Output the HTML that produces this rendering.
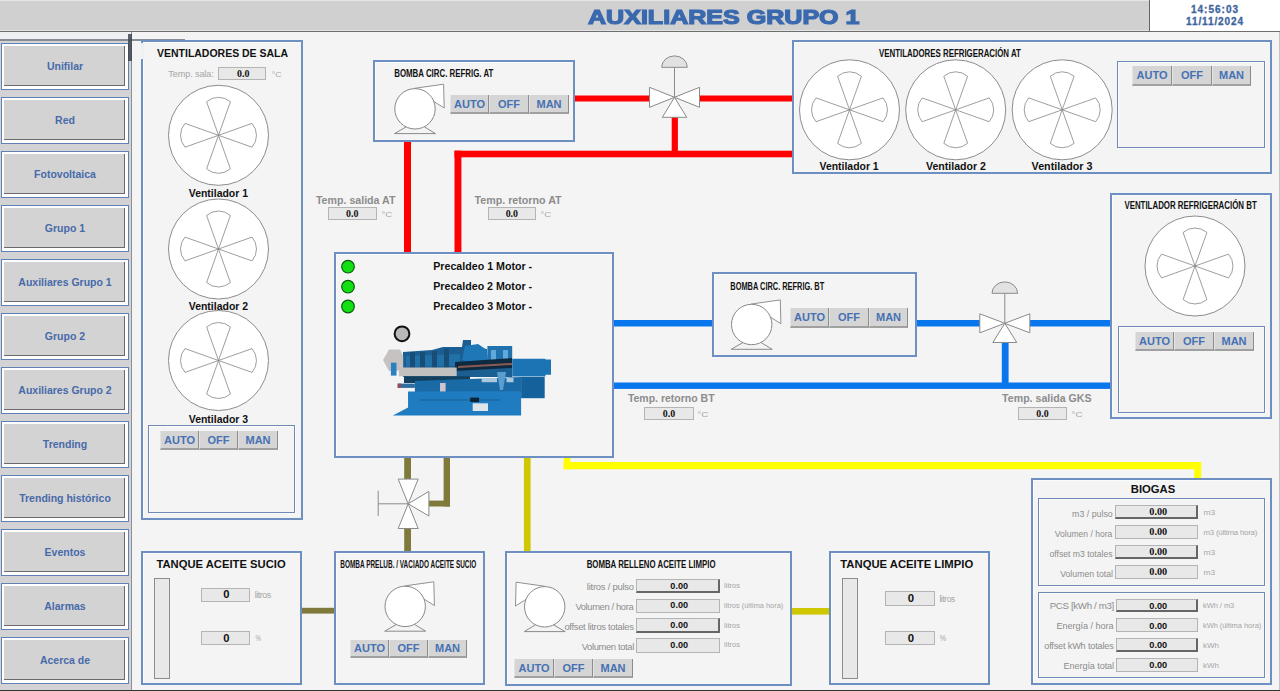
<!DOCTYPE html><html><head><meta charset="utf-8"><style>
*{margin:0;padding:0;box-sizing:border-box}
html,body{width:1280px;height:691px;overflow:hidden;background:#f4f4f4;font-family:"Liberation Sans",sans-serif}
.a{position:absolute}
.t{position:absolute;white-space:nowrap;font-weight:bold;line-height:1}
.panel{position:absolute;border:2px solid #6d8fc2;box-shadow:inset 1px 1px 0 #fafbfd}
.sub{position:absolute;border:1px solid #7189b5;box-shadow:inset 1px 1px 0 #fbfcfe, 1px 1px 0 #fbfcfe}
.nav{position:absolute;left:1px;width:128px;height:47px;border:1px solid #5f82b6;background:#fff;}
.nav .f{position:absolute;left:2px;top:2px;right:3px;bottom:3px;background:#d3d3d3;border-right:1px solid #6a6a6a;border-bottom:1px solid #6a6a6a;}
.nav span{position:absolute;left:0;right:0;top:16px;text-align:center;color:#476aaa;font-weight:bold;font-size:10.5px}
.btn{position:absolute;background:#d5d5d5;border-left:1px solid #e4e4e4;border-right:1px solid #8c8c8c;border-bottom:2px solid #a0a0a0;color:#4671b3;font-weight:bold;font-size:11px;text-align:center}
.fld{position:absolute;background:#e8e8e8;border:1px solid #b4b4b4}
.fld.r{border-right:2px solid #666;border-bottom:2px solid #666}
</style></head><body>
<div class="a" style="left:0;top:0;width:1280px;height:31px;background:#d0d0d0"></div>
<div class="a" style="left:0;top:0;width:1280px;height:1px;background:#e6e6e6"></div>
<div class="a" style="left:0;top:30px;width:1280px;height:1px;background:#e4e4e4"></div>
<div class="a" style="left:0;top:31px;width:1280px;height:1px;background:#6e6e6e"></div>
<div class="t" style="left:588px;top:8px;font-size:19.5px;color:#3a69ae;-webkit-text-stroke:1.2px #3a69ae;transform:scaleX(1.285);transform-origin:left top">AUXILIARES GRUPO 1</div>
<div class="a" style="left:1149px;top:0;width:131px;height:31px;background:#fff;border-left:1px solid #666"></div>
<div class="t" style="left:1150px;top:5px;width:130px;text-align:center;font-size:10px;color:#3d649e;letter-spacing:1px;-webkit-text-stroke:0.3px #3d649e">14:56:03</div>
<div class="t" style="left:1150px;top:17px;width:130px;text-align:center;font-size:10px;color:#3d649e;letter-spacing:0.9px;-webkit-text-stroke:0.3px #3d649e">11/11/2024</div>
<div class="a" style="left:0;top:32px;width:131px;height:659px;background:#d3d2d5"></div>
<div class="a" style="left:131px;top:32px;width:1px;height:659px;background:#8f8f8f"></div>
<div class="nav" style="top:43px"><div class="f"></div><span>Unifilar</span></div>
<div class="nav" style="top:97px"><div class="f"></div><span>Red</span></div>
<div class="nav" style="top:151px"><div class="f"></div><span>Fotovoltaica</span></div>
<div class="nav" style="top:205px"><div class="f"></div><span>Grupo 1</span></div>
<div class="nav" style="top:259px"><div class="f"></div><span>Auxiliares Grupo 1</span></div>
<div class="nav" style="top:313px"><div class="f"></div><span>Grupo 2</span></div>
<div class="nav" style="top:367px"><div class="f"></div><span>Auxiliares Grupo 2</span></div>
<div class="nav" style="top:421px"><div class="f"></div><span>Trending</span></div>
<div class="nav" style="top:475px"><div class="f"></div><span>Trending histórico</span></div>
<div class="nav" style="top:529px"><div class="f"></div><span>Eventos</span></div>
<div class="nav" style="top:583px"><div class="f"></div><span>Alarmas</span></div>
<div class="nav" style="top:637px"><div class="f"></div><span>Acerca de</span></div>
<div class="a" style="left:0;top:32px;width:131px;height:9px;background:#eef0f3;filter:blur(0.5px)"></div>
<div class="a" style="left:0;top:39px;width:185px;height:2px;background:#6c7480;filter:blur(0.6px);opacity:0.8"></div>
<div class="a" style="left:128px;top:34px;width:4px;height:27px;background:#3e4650;filter:blur(0.7px);opacity:0.85"></div>
<div class="a" style="left:1279px;top:32px;width:1px;height:659px;background:#c4c4c4"></div>
<div class="a" style="left:0;top:690px;width:1280px;height:1px;background:#333"></div>
<svg class="a" style="left:0;top:0" width="1280" height="691" viewBox="0 0 1280 691"><rect x="573" y="95.5" width="77.00" height="6.00" fill="#ff0000"/><rect x="699" y="95.5" width="95.00" height="6.00" fill="#ff0000"/><rect x="404" y="141" width="7.00" height="113.00" fill="#ff0000"/><rect x="454.5" y="150.7" width="339.50" height="6.60" fill="#ff0000"/><rect x="454.5" y="150.7" width="6.90" height="103.30" fill="#ff0000"/><rect x="671.7" y="117" width="6.20" height="34.00" fill="#ff0000"/><rect x="613" y="320" width="100.00" height="6.50" fill="#0877ee"/><rect x="916" y="320" width="64.00" height="6.50" fill="#0877ee"/><rect x="1030" y="320" width="82.00" height="6.50" fill="#0877ee"/><rect x="613" y="382.5" width="499.00" height="6.40" fill="#0877ee"/><rect x="1001.8" y="342" width="6.80" height="41.00" fill="#0877ee"/><rect x="404.2" y="457" width="6.80" height="23.00" fill="#7f7a3c"/><rect x="443.6" y="457" width="6.40" height="49.50" fill="#7f7a3c"/><rect x="428" y="500.6" width="22.00" height="5.90" fill="#7f7a3c"/><rect x="404.2" y="528" width="6.80" height="24.00" fill="#7f7a3c"/><rect x="301" y="607.8" width="34.00" height="5.80" fill="#7f7a3c"/><rect x="523.9" y="457" width="6.70" height="95.00" fill="#cfc800"/><rect x="563.7" y="462" width="637.50" height="7.20" fill="#ffff00"/><rect x="563.7" y="457" width="6.80" height="12.20" fill="#ffff00"/><rect x="1194.2" y="462" width="7.00" height="17.00" fill="#ffff00"/><rect x="791" y="608" width="39.00" height="6.60" fill="#cfc800"/><path d="M674.5,97.3 L649.5,87.3 L649.5,107.3 Z" fill="#fff" stroke="#8a8a8a" stroke-width="1"/><path d="M674.5,97.3 L699.5,87.3 L699.5,107.3 Z" fill="#fff" stroke="#8a8a8a" stroke-width="1"/><path d="M674.5,97.3 L662.3,117.3 L686.7,117.3 Z" fill="#fff" stroke="#8a8a8a" stroke-width="1"/><line x1="674.5" y1="97.3" x2="674.5" y2="67.3" stroke="#8a8a8a" stroke-width="1"/><path d="M661.7,67.3 A12.8,11.4 0 0 1 687.3,67.3 Z" fill="#e2e2e2" stroke="#8a8a8a" stroke-width="1"/><path d="M1004.8,323.3 L979.8,313.8 L979.8,332.8 Z" fill="#fff" stroke="#8a8a8a" stroke-width="1"/><path d="M1004.8,323.3 L1029.8,313.8 L1029.8,332.8 Z" fill="#fff" stroke="#8a8a8a" stroke-width="1"/><path d="M1004.8,323.3 L992.8,342.5 L1016.8,342.5 Z" fill="#fff" stroke="#8a8a8a" stroke-width="1"/><line x1="1004.8" y1="323.3" x2="1004.8" y2="293.3" stroke="#8a8a8a" stroke-width="1"/><path d="M992.0,293.3 A12.8,11.4 0 0 1 1017.5999999999999,293.3 Z" fill="#e2e2e2" stroke="#8a8a8a" stroke-width="1"/><path d="M408.2,503.8 L398.2,479.1 L418.2,479.1 Z" fill="#fff" stroke="#8a8a8a" stroke-width="1"/><path d="M408.2,503.8 L398.2,528.5 L418.2,528.5 Z" fill="#fff" stroke="#8a8a8a" stroke-width="1"/><path d="M408.2,503.8 L428.9,491.40000000000003 L428.9,516.0 Z" fill="#fff" stroke="#8a8a8a" stroke-width="1"/><line x1="408.2" y1="503.8" x2="378.2" y2="503.8" stroke="#8a8a8a" stroke-width="1"/><line x1="378.2" y1="490.8" x2="378.2" y2="515.8" stroke="#8a8a8a" stroke-width="1"/><circle cx="218.5" cy="135.3" r="50" fill="#fff" stroke="#8c8c8c" stroke-width="1"/><path d="M218.5,135.3 L206.6,101.8 A18,18 0 0 1 230.4,101.8 Z" fill="none" stroke="#858585" stroke-width="0.8"/><path d="M218.5,135.3 L252.0,123.4 A18,18 0 0 1 252.0,147.2 Z" fill="none" stroke="#858585" stroke-width="0.8"/><path d="M218.5,135.3 L230.4,168.8 A18,18 0 0 1 206.6,168.8 Z" fill="none" stroke="#858585" stroke-width="0.8"/><path d="M218.5,135.3 L185.0,147.2 A18,18 0 0 1 185.0,123.4 Z" fill="none" stroke="#858585" stroke-width="0.8"/><circle cx="218.5" cy="249" r="50" fill="#fff" stroke="#8c8c8c" stroke-width="1"/><path d="M218.5,249 L206.6,215.5 A18,18 0 0 1 230.4,215.5 Z" fill="none" stroke="#858585" stroke-width="0.8"/><path d="M218.5,249 L252.0,237.1 A18,18 0 0 1 252.0,260.9 Z" fill="none" stroke="#858585" stroke-width="0.8"/><path d="M218.5,249 L230.4,282.5 A18,18 0 0 1 206.6,282.5 Z" fill="none" stroke="#858585" stroke-width="0.8"/><path d="M218.5,249 L185.0,260.9 A18,18 0 0 1 185.0,237.1 Z" fill="none" stroke="#858585" stroke-width="0.8"/><circle cx="218.5" cy="360.5" r="50" fill="#fff" stroke="#8c8c8c" stroke-width="1"/><path d="M218.5,360.5 L206.6,327.0 A18,18 0 0 1 230.4,327.0 Z" fill="none" stroke="#858585" stroke-width="0.8"/><path d="M218.5,360.5 L252.0,348.6 A18,18 0 0 1 252.0,372.4 Z" fill="none" stroke="#858585" stroke-width="0.8"/><path d="M218.5,360.5 L230.4,394.0 A18,18 0 0 1 206.6,394.0 Z" fill="none" stroke="#858585" stroke-width="0.8"/><path d="M218.5,360.5 L185.0,372.4 A18,18 0 0 1 185.0,348.6 Z" fill="none" stroke="#858585" stroke-width="0.8"/><circle cx="849.5" cy="109.8" r="50" fill="#fff" stroke="#8c8c8c" stroke-width="1"/><path d="M849.5,109.8 L837.6,76.3 A18,18 0 0 1 861.4,76.3 Z" fill="none" stroke="#858585" stroke-width="0.8"/><path d="M849.5,109.8 L883.0,97.9 A18,18 0 0 1 883.0,121.7 Z" fill="none" stroke="#858585" stroke-width="0.8"/><path d="M849.5,109.8 L861.4,143.3 A18,18 0 0 1 837.6,143.3 Z" fill="none" stroke="#858585" stroke-width="0.8"/><path d="M849.5,109.8 L816.0,121.7 A18,18 0 0 1 816.0,97.9 Z" fill="none" stroke="#858585" stroke-width="0.8"/><circle cx="955.7" cy="109.8" r="50" fill="#fff" stroke="#8c8c8c" stroke-width="1"/><path d="M955.7,109.8 L943.8,76.3 A18,18 0 0 1 967.6,76.3 Z" fill="none" stroke="#858585" stroke-width="0.8"/><path d="M955.7,109.8 L989.2,97.9 A18,18 0 0 1 989.2,121.7 Z" fill="none" stroke="#858585" stroke-width="0.8"/><path d="M955.7,109.8 L967.6,143.3 A18,18 0 0 1 943.8,143.3 Z" fill="none" stroke="#858585" stroke-width="0.8"/><path d="M955.7,109.8 L922.2,121.7 A18,18 0 0 1 922.2,97.9 Z" fill="none" stroke="#858585" stroke-width="0.8"/><circle cx="1062.2" cy="109.8" r="50" fill="#fff" stroke="#8c8c8c" stroke-width="1"/><path d="M1062.2,109.8 L1050.3,76.3 A18,18 0 0 1 1074.1,76.3 Z" fill="none" stroke="#858585" stroke-width="0.8"/><path d="M1062.2,109.8 L1095.7,97.9 A18,18 0 0 1 1095.7,121.7 Z" fill="none" stroke="#858585" stroke-width="0.8"/><path d="M1062.2,109.8 L1074.1,143.3 A18,18 0 0 1 1050.3,143.3 Z" fill="none" stroke="#858585" stroke-width="0.8"/><path d="M1062.2,109.8 L1028.7,121.7 A18,18 0 0 1 1028.7,97.9 Z" fill="none" stroke="#858585" stroke-width="0.8"/><circle cx="1195" cy="266" r="50" fill="#fff" stroke="#8c8c8c" stroke-width="1"/><path d="M1195,266 L1183.1,232.5 A18,18 0 0 1 1206.9,232.5 Z" fill="none" stroke="#858585" stroke-width="0.8"/><path d="M1195,266 L1228.5,254.1 A18,18 0 0 1 1228.5,277.9 Z" fill="none" stroke="#858585" stroke-width="0.8"/><path d="M1195,266 L1206.9,299.5 A18,18 0 0 1 1183.1,299.5 Z" fill="none" stroke="#858585" stroke-width="0.8"/><path d="M1195,266 L1161.5,277.9 A18,18 0 0 1 1161.5,254.1 Z" fill="none" stroke="#858585" stroke-width="0.8"/><g transform="translate(415,108.8)"><path d="M-0.3,-20.5 L28.6,-24.6 L29.2,-0.8 L20,-6.6 Z" fill="#fff" stroke="#919191" stroke-width="1"/><circle cx="0" cy="0" r="20.2" fill="#fff" stroke="#888" stroke-width="1"/><path d="M-9,18.2 L-20.5,24.8 L20.5,24.8 L9.6,18.2" fill="none" stroke="#8a8a8a" stroke-width="1"/></g><g transform="translate(751.7,324.5)"><path d="M-0.3,-20.5 L28.6,-24.6 L29.2,-0.8 L20,-6.6 Z" fill="#fff" stroke="#919191" stroke-width="1"/><circle cx="0" cy="0" r="20.2" fill="#fff" stroke="#888" stroke-width="1"/><path d="M-9,18.2 L-20.5,24.8 L20.5,24.8 L9.6,18.2" fill="none" stroke="#8a8a8a" stroke-width="1"/></g><g transform="translate(405.2,606.4)"><path d="M-0.3,-20.5 L28.6,-24.6 L29.2,-0.8 L20,-6.6 Z" fill="#fff" stroke="#919191" stroke-width="1"/><circle cx="0" cy="0" r="20.2" fill="#fff" stroke="#888" stroke-width="1"/><path d="M-9,18.2 L-20.5,24.8 L20.5,24.8 L9.6,18.2" fill="none" stroke="#8a8a8a" stroke-width="1"/></g><g transform="translate(544.7,606.8) scale(-1,1)"><path d="M-0.3,-20.5 L28.6,-24.6 L29.2,-0.8 L20,-6.6 Z" fill="#fff" stroke="#919191" stroke-width="1"/><circle cx="0" cy="0" r="20.2" fill="#fff" stroke="#888" stroke-width="1"/><path d="M-9,18.2 L-20.5,24.8 L20.5,24.8 L9.6,18.2" fill="none" stroke="#8a8a8a" stroke-width="1"/></g><circle cx="348" cy="266.7" r="6.3" fill="#12e012" stroke="#0b5d0b" stroke-width="1.2"/><circle cx="348" cy="286.7" r="6.3" fill="#12e012" stroke="#0b5d0b" stroke-width="1.2"/><circle cx="348" cy="306.5" r="6.3" fill="#12e012" stroke="#0b5d0b" stroke-width="1.2"/><circle cx="402" cy="333.8" r="7.4" fill="#b9b9b9" stroke="#111" stroke-width="2"/><g>
<!-- upper dark head block -->
<path d="M403,352 L432,350 L443,347 L462,347 L463,340 L471,340 L471,347 L487,349 L487,359 L512,359 L512,377 L403,377 Z" fill="#1b5f92"/>
<!-- head detail lines -->
<path d="M406,356 L460,354 L460,366 L406,367 Z" fill="#2170a8"/>
<path d="M410,352 L415,352 L415,368 L410,368 Z M420,352 L425,352 L425,368 L420,368 Z M432,351 L437,351 L437,368 L432,368 Z M444,349 L449,349 L449,368 L444,368 Z" fill="#184d78"/>
<!-- turbo -->
<path d="M465,346 L478,344 L487,350 L488,360 L470,362 L462,360 Z" fill="#1e78b8"/>
<path d="M487.4,346 L512.2,346 L512.2,361.3 L487.4,361.3 Z" fill="#1f72ad"/>
<path d="M491,350 L496,350 L496,360 L491,360 Z M503,350 L508,350 L508,360 L503,360 Z" fill="#62a8d8"/>
<!-- dark cable band -->
<path d="M455,362 L512,358 L512,368 L455,371 Z" fill="#0d2a40"/>
<path d="M458,366 L512,363 L512,365 L458,368 Z" fill="#8a5a50"/>
<!-- generator right -->
<path d="M512.2,358.8 L545.4,358.8 L545.4,359.4 L551,359.4 L551,374.7 L545.4,374.7 L545.4,376.6 L512.2,376.6 Z" fill="#1d74b4"/>
<path d="M521.1,377 L544.7,377 L544.7,398.2 L521.1,398.2 Z" fill="#14619b"/>
<!-- gray exhaust cap -->
<path d="M383,360 L389,349.5 L400,349.5 L403.2,356 L403.2,368 L397,371 L389,371 Z" fill="#c6c2c2"/>
<path d="M390.9,362.7 L396.5,362.7 L396.5,375.6 L390.9,375.6 Z" fill="#2a80c0"/>
<!-- gray manifold bar -->
<path d="M398.9,367.6 L456.7,367.6 L456.7,376.2 L398.9,376.2 Z" fill="#c3c0c0"/>
<!-- dark band under -->
<path d="M404,376.2 L470,376.2 L470,383 L404,383 Z" fill="#13405f"/>
<!-- middle blue section -->
<path d="M414.9,381 L521.1,377 L521.1,398 L414.9,399 Z" fill="#1a6aa6"/>
<path d="M481.7,377.9 L497,377.9 L497,382.3 L481.7,382.3 Z M506.5,377.9 L513.5,377.9 L513.5,382.3 L506.5,382.3 Z" fill="#a9c8de"/>
<path d="M497,372 L506,372 L503,390 L500,390 Z" fill="#5a9ed0"/>
<path d="M440,383 L445.6,383 L445.6,394 L440,394 Z" fill="#d0c4cc"/>
<!-- red stub -->
<path d="M397.7,383.6 L414.9,383.6 L414.9,387.9 L397.7,387.9 Z" fill="#2f6fa0"/>
<path d="M397.7,383.6 L401,383.6 L401,387.9 L397.7,387.9 Z" fill="#9a4a50"/>
<!-- base -->
<path d="M408,391.6 L521.1,391.2 L521.1,415.4 L392.8,415.6 L408.1,407.6 Z" fill="#1f7cc0"/>
<path d="M420,399 L500,399 L500,401 L420,401 Z" fill="#1a6dab"/>
<!-- label plate & dark small rect -->
<path d="M470.2,397.6 L479.1,397.6 L479.1,402 L470.2,402 Z" fill="#0c2436"/>
<path d="M472.7,403.3 L488,403.3 L488,411 L472.7,411 Z" fill="#dfe6ea"/>
</g>
</svg>
<div class="panel" style="left:141px;top:40px;width:162px;height:480px"></div>
<div class="sub" style="left:148px;top:425px;width:147px;height:88px"></div>
<div class="panel" style="left:373px;top:60px;width:202px;height:82px"></div>
<div class="panel" style="left:792px;top:40px;width:480px;height:134px"></div>
<div class="sub" style="left:1117px;top:61px;width:148px;height:87px"></div>
<div class="panel" style="left:334px;top:252px;width:280px;height:206px"></div>
<div class="panel" style="left:712px;top:272px;width:205px;height:85px"></div>
<div class="panel" style="left:1110px;top:193px;width:162px;height:226px"></div>
<div class="sub" style="left:1118px;top:326px;width:147px;height:87px"></div>
<div class="panel" style="left:141px;top:551px;width:161px;height:134px"></div>
<div class="panel" style="left:334px;top:551px;width:151px;height:134px"></div>
<div class="panel" style="left:505px;top:551px;width:287px;height:135px"></div>
<div class="panel" style="left:829px;top:551px;width:161px;height:134px"></div>
<div class="panel" style="left:1031px;top:478px;width:241px;height:207px"></div>
<div class="sub" style="left:1038px;top:498px;width:227px;height:88px"></div>
<div class="sub" style="left:1038px;top:592px;width:227px;height:86px"></div>
<div class="a" style="left:141px;top:43px;width:3px;height:16px;background:#eef1f4"></div>
<div class="btn" style="left:160px;top:431px;width:39px;height:19px;line-height:18px">AUTO</div>
<div class="btn" style="left:199px;top:431px;width:39px;height:19px;line-height:18px">OFF</div>
<div class="btn" style="left:238px;top:431px;width:40px;height:19px;line-height:18px">MAN</div>
<div class="btn" style="left:450px;top:95px;width:39px;height:19px;line-height:18px">AUTO</div>
<div class="btn" style="left:489px;top:95px;width:40px;height:19px;line-height:18px">OFF</div>
<div class="btn" style="left:529px;top:95px;width:40px;height:19px;line-height:18px">MAN</div>
<div class="btn" style="left:1132px;top:66px;width:40px;height:20px;line-height:19px">AUTO</div>
<div class="btn" style="left:1172px;top:66px;width:40px;height:20px;line-height:19px">OFF</div>
<div class="btn" style="left:1212px;top:66px;width:39px;height:20px;line-height:19px">MAN</div>
<div class="btn" style="left:790px;top:308px;width:39px;height:20px;line-height:19px">AUTO</div>
<div class="btn" style="left:829px;top:308px;width:40px;height:20px;line-height:19px">OFF</div>
<div class="btn" style="left:869px;top:308px;width:39px;height:20px;line-height:19px">MAN</div>
<div class="btn" style="left:1135px;top:332px;width:39px;height:19px;line-height:18px">AUTO</div>
<div class="btn" style="left:1174px;top:332px;width:40px;height:19px;line-height:18px">OFF</div>
<div class="btn" style="left:1214px;top:332px;width:40px;height:19px;line-height:18px">MAN</div>
<div class="btn" style="left:350px;top:640px;width:39px;height:18px;line-height:17px">AUTO</div>
<div class="btn" style="left:389px;top:640px;width:39px;height:18px;line-height:17px">OFF</div>
<div class="btn" style="left:428px;top:640px;width:39px;height:18px;line-height:17px">MAN</div>
<div class="btn" style="left:514px;top:659px;width:40px;height:19px;line-height:18px">AUTO</div>
<div class="btn" style="left:554px;top:659px;width:39px;height:19px;line-height:18px">OFF</div>
<div class="btn" style="left:593px;top:659px;width:40px;height:19px;line-height:18px">MAN</div>
<div class="fld" style="left:218px;top:67px;width:48px;height:13px"></div>
<div class="fld" style="left:328px;top:207px;width:49px;height:13px"></div>
<div class="fld" style="left:488px;top:207px;width:48px;height:13px"></div>
<div class="fld" style="left:644px;top:407px;width:50px;height:13px"></div>
<div class="fld" style="left:1018px;top:407px;width:49px;height:13px"></div>
<div class="fld" style="left:201px;top:588px;width:49px;height:14px"></div>
<div class="fld" style="left:201px;top:631px;width:49px;height:14px"></div>
<div class="fld" style="left:885px;top:591px;width:50px;height:15px"></div>
<div class="fld" style="left:885px;top:631px;width:50px;height:14px"></div>
<div class="a" style="left:154px;top:578px;width:16px;height:101px;background:#e8e8e8;border:1px solid #8c8c8c"></div>
<div class="a" style="left:842px;top:578px;width:16px;height:101px;background:#e8e8e8;border:1px solid #8c8c8c"></div>
<div class="fld r" style="left:636px;top:579px;width:84px;height:14px"></div>
<div class="fld" style="left:636px;top:599px;width:84px;height:14px"></div>
<div class="fld r" style="left:636px;top:618px;width:84px;height:15px"></div>
<div class="fld" style="left:636px;top:638px;width:84px;height:15px"></div>
<div class="fld r" style="left:1115px;top:505px;width:83px;height:14px"></div>
<div class="fld" style="left:1115px;top:525px;width:83px;height:14px"></div>
<div class="fld r" style="left:1115px;top:545px;width:83px;height:14px"></div>
<div class="fld" style="left:1115px;top:565px;width:83px;height:14px"></div>
<div class="fld r" style="left:1116px;top:599px;width:82px;height:13px"></div>
<div class="fld" style="left:1116px;top:618px;width:82px;height:14px"></div>
<div class="fld r" style="left:1116px;top:638px;width:82px;height:14px"></div>
<div class="fld" style="left:1116px;top:658px;width:82px;height:14px"></div>
<svg class="a" style="left:0;top:0" width="1280" height="691" viewBox="0 0 1280 691"><text transform="translate(157.00,56.70) scale(0.942,1)" font-size="11.14" font-family="Liberation Sans" font-weight="bold" fill="#111">VENTILADORES DE SALA</text><text x="168.32" y="77.30" font-size="9.13" letter-spacing="-0.120" font-family="Liberation Sans" font-weight="normal" fill="#a6a6a6">Temp. sala:</text><text transform="translate(237.10,77.40) scale(0.992,1)" font-size="10.00" font-family="Liberation Serif" font-weight="bold" fill="#111">0.0</text><text transform="translate(271.66,76.80) scale(1.184,1)" font-size="7.39" font-family="Liberation Sans" font-weight="normal" fill="#a6a6a6">°C</text><text transform="translate(188.75,196.90) scale(0.927,1)" font-size="11.29" font-family="Liberation Sans" font-weight="bold" fill="#111">Ventilador 1</text><text transform="translate(188.75,309.90) scale(0.929,1)" font-size="11.29" font-family="Liberation Sans" font-weight="bold" fill="#111">Ventilador 2</text><text transform="translate(188.75,422.90) scale(0.929,1)" font-size="11.29" font-family="Liberation Sans" font-weight="bold" fill="#111">Ventilador 3</text><text transform="translate(394.23,76.90) scale(0.757,1)" font-size="10.43" font-family="Liberation Sans" font-weight="bold" fill="#111">BOMBA CIRC. REFRIG. AT</text><text transform="translate(879.00,56.90) scale(0.757,1)" font-size="10.43" font-family="Liberation Sans" font-weight="bold" fill="#111">VENTILADORES REFRIGERACIÓN AT</text><text transform="translate(819.50,170.20) scale(0.949,1)" font-size="11.00" font-family="Liberation Sans" font-weight="bold" fill="#111">Ventilador 1</text><text transform="translate(926.00,170.20) scale(0.962,1)" font-size="11.00" font-family="Liberation Sans" font-weight="bold" fill="#111">Ventilador 2</text><text transform="translate(1031.60,170.20) scale(0.975,1)" font-size="11.00" font-family="Liberation Sans" font-weight="bold" fill="#111">Ventilador 3</text><text transform="translate(315.89,204.00) scale(0.932,1)" font-size="11.43" font-family="Liberation Sans" font-weight="bold" fill="#8c8c8c">Temp. salida AT</text><text transform="translate(474.49,204.00) scale(0.936,1)" font-size="11.43" font-family="Liberation Sans" font-weight="bold" fill="#8c8c8c">Temp. retorno AT</text><text transform="translate(346.10,216.85) scale(1.023,1)" font-size="9.70" font-family="Liberation Serif" font-weight="bold" fill="#111">0.0</text><text transform="translate(505.65,216.85) scale(1.023,1)" font-size="9.70" font-family="Liberation Serif" font-weight="bold" fill="#111">0.0</text><text transform="translate(662.80,417.05) scale(1.023,1)" font-size="9.70" font-family="Liberation Serif" font-weight="bold" fill="#111">0.0</text><text transform="translate(1036.30,417.05) scale(1.023,1)" font-size="9.70" font-family="Liberation Serif" font-weight="bold" fill="#111">0.0</text><text transform="translate(381.52,216.50) scale(1.327,1)" font-size="7.25" font-family="Liberation Sans" font-weight="normal" fill="#a6a6a6">°C</text><text transform="translate(540.52,216.50) scale(1.327,1)" font-size="7.25" font-family="Liberation Sans" font-weight="normal" fill="#a6a6a6">°C</text><text transform="translate(697.30,416.50) scale(1.367,1)" font-size="7.25" font-family="Liberation Sans" font-weight="normal" fill="#a6a6a6">°C</text><text transform="translate(1071.50,416.50) scale(1.367,1)" font-size="7.25" font-family="Liberation Sans" font-weight="normal" fill="#a6a6a6">°C</text><text transform="translate(433.26,270.00) scale(1.066,1)" font-size="10.00" font-family="Liberation Sans" font-weight="bold" fill="#111">Precaldeo 1 Motor -</text><text transform="translate(433.26,290.20) scale(1.051,1)" font-size="10.14" font-family="Liberation Sans" font-weight="bold" fill="#111">Precaldeo 2 Motor -</text><text transform="translate(433.26,310.30) scale(1.066,1)" font-size="10.00" font-family="Liberation Sans" font-weight="bold" fill="#111">Precaldeo 3 Motor -</text><text transform="translate(730.36,289.90) scale(0.720,1)" font-size="10.29" font-family="Liberation Sans" font-weight="bold" fill="#111">BOMBA CIRC. REFRIG. BT</text><text transform="translate(1124.40,209.30) scale(0.709,1)" font-size="11.14" font-family="Liberation Sans" font-weight="bold" fill="#111">VENTILADOR REFRIGERACIÓN BT</text><text transform="translate(627.89,402.30) scale(0.968,1)" font-size="10.86" font-family="Liberation Sans" font-weight="bold" fill="#8c8c8c">Temp. retorno BT</text><text transform="translate(1002.09,402.30) scale(0.978,1)" font-size="10.86" font-family="Liberation Sans" font-weight="bold" fill="#8c8c8c">Temp. salida GKS</text><text transform="translate(156.49,568.20) scale(0.972,1)" font-size="11.57" font-family="Liberation Sans" font-weight="bold" fill="#111">TANQUE ACEITE SUCIO</text><text transform="translate(223.16,598.30) scale(1.076,1)" font-size="10.43" font-family="Liberation Sans" font-weight="bold" fill="#111">0</text><text transform="translate(223.16,641.80) scale(1.076,1)" font-size="10.43" font-family="Liberation Sans" font-weight="bold" fill="#111">0</text><text x="254.87" y="598.00" font-size="8.90" letter-spacing="-0.480" font-family="Liberation Sans" font-weight="normal" fill="#a6a6a6">litros</text><text transform="translate(255.61,641.30) scale(0.675,1)" font-size="9.29" font-family="Liberation Sans" font-weight="normal" fill="#a6a6a6">%</text><text transform="translate(340.31,567.80) scale(0.618,1)" font-size="10.43" font-family="Liberation Sans" font-weight="bold" fill="#111">BOMBA PRELUB. / VACIADO ACEITE SUCIO</text><text transform="translate(586.63,568.20) scale(0.723,1)" font-size="10.86" font-family="Liberation Sans" font-weight="bold" fill="#111">BOMBA RELLENO ACEITE LIMPIO</text><text x="586.83" y="590.30" font-size="9.45" letter-spacing="-0.240" font-family="Liberation Sans" font-weight="normal" fill="#8c8c8c">litros / pulso</text><text transform="translate(670.33,588.80) scale(1.011,1)" font-size="9.00" font-family="Liberation Sans" font-weight="bold" fill="#111">0.00</text><text transform="translate(724.05,588.00) scale(1.105,1)" font-size="6.85" font-family="Liberation Sans" font-weight="normal" fill="#a6a6a6">litros</text><text x="575.40" y="609.90" font-size="9.45" letter-spacing="-0.401" font-family="Liberation Sans" font-weight="normal" fill="#8c8c8c">Volumen / hora</text><text transform="translate(670.33,608.40) scale(1.011,1)" font-size="9.00" font-family="Liberation Sans" font-weight="bold" fill="#111">0.00</text><text transform="translate(724.06,607.60) scale(1.081,1)" font-size="6.85" font-family="Liberation Sans" font-weight="normal" fill="#a6a6a6">litros (última hora)</text><text x="564.42" y="629.80" font-size="9.45" letter-spacing="-0.317" font-family="Liberation Sans" font-weight="normal" fill="#8c8c8c">offset litros totales</text><text transform="translate(670.33,628.30) scale(1.011,1)" font-size="9.00" font-family="Liberation Sans" font-weight="bold" fill="#111">0.00</text><text transform="translate(724.05,627.50) scale(1.105,1)" font-size="6.85" font-family="Liberation Sans" font-weight="normal" fill="#a6a6a6">litros</text><text x="581.70" y="649.60" font-size="9.45" letter-spacing="-0.382" font-family="Liberation Sans" font-weight="normal" fill="#8c8c8c">Volumen total</text><text transform="translate(670.33,648.10) scale(1.011,1)" font-size="9.00" font-family="Liberation Sans" font-weight="bold" fill="#111">0.00</text><text transform="translate(724.05,647.30) scale(1.105,1)" font-size="6.85" font-family="Liberation Sans" font-weight="normal" fill="#a6a6a6">litros</text><text transform="translate(840.29,568.10) scale(1.014,1)" font-size="11.14" font-family="Liberation Sans" font-weight="bold" fill="#111">TANQUE ACEITE LIMPIO</text><text transform="translate(907.86,602.00) scale(1.143,1)" font-size="10.00" font-family="Liberation Sans" font-weight="bold" fill="#111">0</text><text transform="translate(907.86,641.60) scale(1.143,1)" font-size="10.00" font-family="Liberation Sans" font-weight="bold" fill="#111">0</text><text x="939.47" y="601.50" font-size="8.90" letter-spacing="-0.600" font-family="Liberation Sans" font-weight="normal" fill="#a6a6a6">litros</text><text transform="translate(939.78,641.30) scale(0.778,1)" font-size="9.29" font-family="Liberation Sans" font-weight="normal" fill="#a6a6a6">%</text><text transform="translate(1130.82,492.50) scale(1.067,1)" font-size="10.57" font-family="Liberation Sans" font-weight="bold" fill="#111">BIOGAS</text><text transform="translate(1072.07,516.90) scale(1.040,1)" font-size="8.49" font-family="Liberation Sans" font-weight="normal" fill="#8c8c8c">m3 / pulso</text><text transform="translate(1149.29,515.40) scale(1.056,1)" font-size="9.70" font-family="Liberation Serif" font-weight="bold" fill="#111">0.00</text><text transform="translate(1203.50,514.90) scale(1.063,1)" font-size="7.86" font-family="Liberation Sans" font-weight="normal" fill="#a6a6a6">m3</text><text transform="translate(1054.80,536.70) scale(1.009,1)" font-size="8.49" font-family="Liberation Sans" font-weight="normal" fill="#8c8c8c">Volumen / hora</text><text transform="translate(1149.29,535.20) scale(1.056,1)" font-size="9.70" font-family="Liberation Serif" font-weight="bold" fill="#111">0.00</text><text x="1203.53" y="534.70" font-size="7.86" letter-spacing="-0.227" font-family="Liberation Sans" font-weight="normal" fill="#a6a6a6">m3 (última hora)</text><text transform="translate(1049.45,556.80) scale(1.018,1)" font-size="8.49" font-family="Liberation Sans" font-weight="normal" fill="#8c8c8c">offset m3 totales</text><text transform="translate(1149.29,555.30) scale(1.056,1)" font-size="9.70" font-family="Liberation Serif" font-weight="bold" fill="#111">0.00</text><text transform="translate(1203.50,554.80) scale(1.063,1)" font-size="7.86" font-family="Liberation Sans" font-weight="normal" fill="#a6a6a6">m3</text><text transform="translate(1060.20,576.60) scale(1.027,1)" font-size="8.49" font-family="Liberation Sans" font-weight="normal" fill="#8c8c8c">Volumen total</text><text transform="translate(1149.29,575.10) scale(1.056,1)" font-size="9.70" font-family="Liberation Serif" font-weight="bold" fill="#111">0.00</text><text transform="translate(1203.50,574.60) scale(1.063,1)" font-size="7.86" font-family="Liberation Sans" font-weight="normal" fill="#a6a6a6">m3</text><text x="1049.72" y="609.30" font-size="9.71" letter-spacing="-0.348" font-family="Liberation Sans" font-weight="normal" fill="#8c8c8c">PCS [kWh / m3]</text><text transform="translate(1149.32,608.60) scale(1.006,1)" font-size="9.14" font-family="Liberation Sans" font-weight="bold" fill="#111">0.00</text><text x="1202.95" y="608.10" font-size="7.53" letter-spacing="-0.056" font-family="Liberation Sans" font-weight="normal" fill="#a6a6a6">kWh / m3</text><text x="1056.57" y="629.20" font-size="9.18" letter-spacing="-0.090" font-family="Liberation Sans" font-weight="normal" fill="#8c8c8c">Energía / hora</text><text transform="translate(1149.32,628.50) scale(1.006,1)" font-size="9.14" font-family="Liberation Sans" font-weight="bold" fill="#111">0.00</text><text x="1202.95" y="628.00" font-size="7.53" letter-spacing="-0.062" font-family="Liberation Sans" font-weight="normal" fill="#a6a6a6">kWh (última hora)</text><text x="1044.23" y="648.90" font-size="9.18" letter-spacing="-0.185" font-family="Liberation Sans" font-weight="normal" fill="#8c8c8c">offset kWh totales</text><text transform="translate(1149.32,648.20) scale(1.006,1)" font-size="9.14" font-family="Liberation Sans" font-weight="bold" fill="#111">0.00</text><text transform="translate(1202.92,647.70) scale(1.064,1)" font-size="7.53" font-family="Liberation Sans" font-weight="normal" fill="#a6a6a6">kWh</text><text x="1063.47" y="668.80" font-size="9.18" letter-spacing="-0.112" font-family="Liberation Sans" font-weight="normal" fill="#8c8c8c">Energía total</text><text transform="translate(1149.32,668.10) scale(1.006,1)" font-size="9.14" font-family="Liberation Sans" font-weight="bold" fill="#111">0.00</text><text transform="translate(1202.92,667.60) scale(1.064,1)" font-size="7.53" font-family="Liberation Sans" font-weight="normal" fill="#a6a6a6">kWh</text></svg>
</body></html>
